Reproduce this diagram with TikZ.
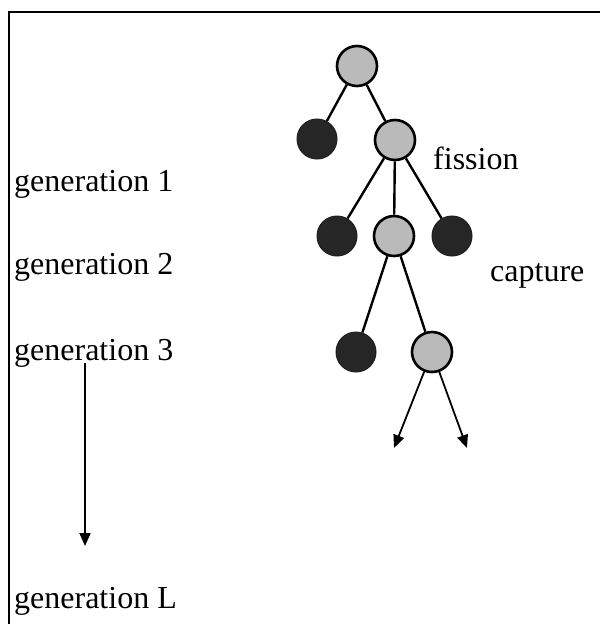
\documentclass[tikz,border=0pt]{standalone}
\usepackage{fontspec}
\setmainfont{Liberation Serif}
\usetikzlibrary{arrows.meta}
\begin{document}
\begin{tikzpicture}[x=1pt,y=-1pt,
  lite/.style={circle,draw=black,line width=2.6pt,fill=black!27,minimum size=40pt,inner sep=0pt},
  dark/.style={circle,draw=black!88,line width=1pt,fill=black!85,minimum size=40pt,inner sep=0pt},
  link/.style={line width=2.4pt},
  arr/.style={line width=1.8pt,-{Triangle[length=13pt,width=11pt]}},
  lbl/.style={anchor=base west,inner sep=0pt,font=\fontsize{32}{38}\selectfont}]
\useasboundingbox (0,0) rectangle (600,624);
\fill[white] (0,0) rectangle (600,624);
% frame
\draw[line width=2pt] (9,624) -- (9,12) -- (600,12);
% labels
\node[lbl] (g1) at (14,191) {generation 1};
\node[lbl] (g2) at (14,274) {generation 2};
\node[lbl] (g3) at (14,360) {generation 3};
\node[lbl] (gL) at (14,608) {generation L};
\node[lbl] (fis) at (433,169) {fission};
\node[lbl] (cap) at (490,281) {capture};
% tree
\node[lite] (n0) at (357,66) {};
\node[dark] (a1) at (317,139) {};
\node[lite] (b1) at (395,140) {};
\node[dark] (a2) at (337,236) {};
\node[lite] (b2) at (394,236) {};
\node[dark] (c2) at (452,236) {};
\node[dark] (a3) at (356,352) {};
\node[lite] (b3) at (432,352) {};
\coordinate (t1) at (394,448);
\coordinate (t2) at (467,448);
\draw[link] (n0) -- (a1);
\draw[link] (n0) -- (b1);
\draw[link] (b1) -- (a2);
\draw[link] (b1) -- (b2);
\draw[link] (b1) -- (c2);
\draw[link] (b2) -- (a3);
\draw[link] (b2) -- (b3);
\draw[arr] (b3) -- (t1);
\draw[arr] (b3) -- (t2);
% generation arrow
\coordinate (v0) at (85,363);
\coordinate (v1) at (85,546);
\draw[arr] (v0) -- (v1);
\end{tikzpicture}
\end{document}
